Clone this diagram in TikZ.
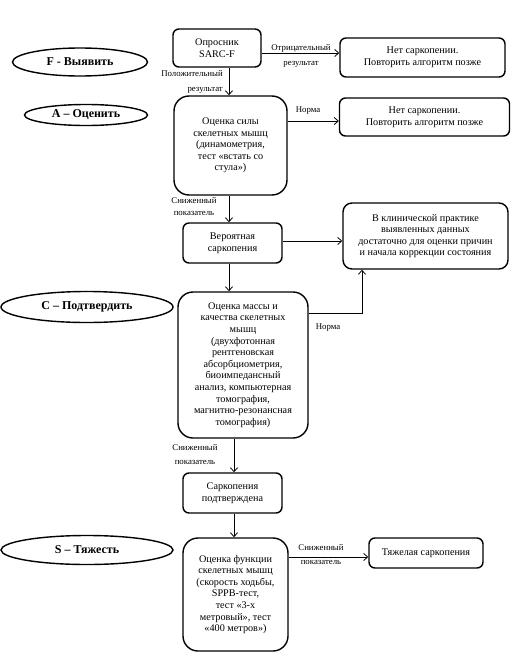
\documentclass[tikz,border=0pt]{standalone}
\usepackage{fontspec}
\setmainfont{Liberation Serif}
\usetikzlibrary{shapes.geometric,arrows.meta}
\begin{document}
\begin{tikzpicture}[x=1pt,y=-1pt,
  box/.style={draw,line width=1.4pt,rounded corners=6pt,align=center,inner sep=1pt,font=\fontsize{10.2}{11.6}\selectfont},
  bigbox/.style={box,rounded corners=15pt},
  oval/.style={draw,line width=1.4pt,ellipse,inner sep=0pt,font=\fontsize{12}{14}\selectfont\bfseries},
  lbl/.style={font=\fontsize{8.8}{12.5}\selectfont,inner sep=0pt,align=center},
  arr/.style={line width=0.8pt,-{Straight Barb[length=4pt,width=7pt]}}]
\useasboundingbox (0,0) rectangle (513,656);
% ovals
\node[oval,minimum width=135pt,minimum height=28pt] (ovF) at (80,62) {F - Выявить};
\node[oval,minimum width=123pt,minimum height=21pt] (ovA) at (86,115) {A – Оценить};
\node[oval,minimum width=172pt,minimum height=31pt] (ovC) at (87,307) {C – Подтвердить};
\node[oval,minimum width=172pt,minimum height=29pt] (ovS) at (87,550) {S – Тяжесть};
% boxes
\node[box,minimum width=88pt,minimum height=38pt] (sarc) at (217,48) {Опросник\\SARC-F};
\node[box,minimum width=165pt,minimum height=39pt] (no1) at (422.5,57.5) {Нет саркопении.\\Повторить алгоритм позже};
\node[bigbox,minimum width=113pt,minimum height=99pt] (str) at (230.5,145.5) {Оценка силы\\скелетных мышц\\(динамометрия,\\тест «встать со\\стула»)};
\node[box,minimum width=170pt,minimum height=38pt] (no2) at (424.5,117) {Нет саркопении.\\Повторить алгоритм позже};
\node[box,minimum width=99pt,minimum height=40pt] (prob) at (232.5,243) {Вероятная\\саркопения};
\node[box,rounded corners=9pt,minimum width=165pt,minimum height=66pt] (clin) at (425.5,236) {В клинической практике\\выявленных данных\\достаточно для оценки причин\\и начала коррекции состояния};
\node[bigbox,minimum width=130pt,minimum height=146pt] (mass) at (243,365) {Оценка массы и\\качества скелетных\\мышц\\(двухфотонная\\рентгеновская\\абсорбциометрия,\\биоимпедансный\\анализ, компьютерная\\томография,\\магнитно-резонансная\\томография)};
\node[box,minimum width=99pt,minimum height=40pt] (conf) at (232.5,493) {Саркопения\\подтверждена};
\node[bigbox,minimum width=105pt,minimum height=113pt] (func) at (235.5,594.5) {Оценка функции\\скелетных мышц\\(скорость ходьбы,\\SPPB-тест,\\тест «3-х\\метровый», тест\\«400 метров»)};
\node[box,minimum width=114pt,minimum height=30pt] (sev) at (426,553) {Тяжелая саркопения};
% connectors
\coordinate (xa) at (229,0);
\coordinate (xb) at (234,0);
\coordinate (cn) at (362,313);
\draw[arr] (sarc.east |- 0,53) -- (no1.west |- 0,53);
\draw[arr] (sarc.south -| xa) -- (str.north -| xa);
\draw[arr] (str.east |- 0,121) -- (no2.west |- 0,121);
\draw[arr] (str.south -| xa) -- (prob.north -| xa);
\draw[arr] (prob.east |- 0,241) -- (clin.west |- 0,241);
\draw[arr] (prob.south -| xa) -- (mass.north -| xa);
\draw[arr] (mass.east |- cn) -- (cn) -- (clin.south -| cn);
\draw[arr] (mass.south -| xb) -- (conf.north -| xb);
\draw[arr] (conf.south -| xb) -- (func.north -| xb);
\draw[arr] (func.east |- 0,557) -- (sev.west |- 0,557);
% labels
\node[lbl] (l1) at (301,48) {Отрицательный};
\node[lbl] (l1b) at (301,64) {результат};
\node[lbl,anchor=east,align=right,font=\fontsize{8.8}{15}\selectfont] (l2) at (223,81.5) {Положительный\\результат};
\node[lbl] (l3) at (308,111) {Норма};
\node[lbl,font=\fontsize{8.8}{12}\selectfont] (l4) at (194,207) {Сниженный\\показатель};
\node[lbl] (l5) at (328,328) {Норма};
\node[lbl,font=\fontsize{8.8}{14}\selectfont] (l6) at (195,455) {Сниженный\\показатель};
\node[lbl,font=\fontsize{8.8}{14}\selectfont] (l7) at (321,555) {Сниженный\\показатель};
\end{tikzpicture}
\end{document}
